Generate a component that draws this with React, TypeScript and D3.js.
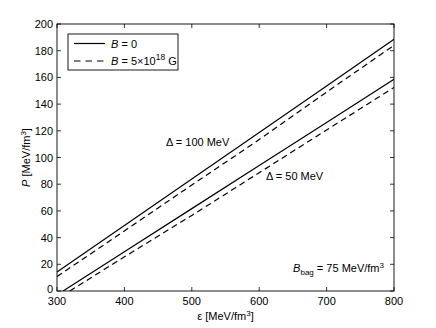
import * as d3 from 'd3';

// x ticks (energy density) and y ticks (pressure)
const epsTicks = [300, 400, 500, 600, 700, 800];
const pTicks = [0, 20, 40, 60, 80, 100, 120, 140, 160, 180, 200];

// Delta = 100 MeV
const eps100 = [300, 400, 500, 600, 700, 800];
const p100B0 = [14.3, 49.1, 83.9, 118.7, 153.5, 188.5];
const p100B5 = [10.8, 45.0, 79.4, 113.4, 149.0, 184.0];

// Delta = 50 MeV
const eps50B0 = [309, 400, 500, 600, 700, 800];
const p50B0 = [0, 29.4, 61.7, 94.0, 126.3, 158.6];
const eps50B5 = [319, 400, 500, 600, 700, 800];
const p50B5 = [0, 25.6, 56.6, 88.6, 120.6, 152.5];

const W = 436;
const H = 328;
const margin = { left: 57, top: 24, right: 42, bottom: 37 };
const font = 'Liberation Sans, Arial, sans-serif';

export default function App() {
  const x = d3.scaleLinear().domain([300, 800]).range([margin.left, W - margin.right]);
  const y = d3.scaleLinear().domain([0, 200]).range([H - margin.bottom, margin.top]);
  const [x0, x1] = x.range();
  const [y0, y1] = y.range();

  const line = d3
    .line<[number, number]>()
    .x((d) => x(d[0]))
    .y((d) => y(d[1]));

  const series = [
    { eps: eps100, p: p100B0, dash: null },
    { eps: eps100, p: p100B5, dash: '6,4' },
    { eps: eps50B0, p: p50B0, dash: null },
    { eps: eps50B5, p: p50B5, dash: '6,4' },
  ];

  const tickLen = 4;

  return (
    <svg
      width={W}
      height={H}
      style={{ position: 'absolute', left: 0, top: 0, background: '#fff' }}
      fontFamily={font}
    >
      <defs>
        <clipPath id="plot">
          <rect x={x0} y={y1} width={x1 - x0} height={y0 - y1} />
        </clipPath>
      </defs>

      {/* data lines */}
      <g clipPath="url(#plot)">
        {series.map((s, i) => (
          <path
            key={i}
            d={line(s.eps.map((e, j) => [e, s.p[j]] as [number, number])) || ''}
            fill="none"
            stroke="#000"
            strokeWidth={1.2}
            strokeDasharray={s.dash || undefined}
          />
        ))}
      </g>

      {/* box */}
      <rect x={x0} y={y1} width={x1 - x0} height={y0 - y1} fill="none" stroke="#000" strokeWidth={0.9} />

      {/* x ticks */}
      {epsTicks.map((t) => (
        <g key={'x' + t}>
          <line x1={x(t)} x2={x(t)} y1={y0} y2={y0 - tickLen} stroke="#000" strokeWidth={0.8} />
          <line x1={x(t)} x2={x(t)} y1={y1} y2={y1 + tickLen} stroke="#000" strokeWidth={0.8} />
          <text x={x(t)} y={y0 + 14} fontSize={11} textAnchor="middle">
            {t}
          </text>
        </g>
      ))}

      {/* y ticks */}
      {pTicks.map((t) => (
        <g key={'y' + t}>
          <line x1={x0} x2={x0 + tickLen} y1={y(t)} y2={y(t)} stroke="#000" strokeWidth={0.8} />
          <line x1={x1} x2={x1 - tickLen} y1={y(t)} y2={y(t)} stroke="#000" strokeWidth={0.8} />
          <text x={x0 - 4} y={y(t) + (t === 0 ? 2 : 4)} fontSize={11} textAnchor="end">
            {t}
          </text>
        </g>
      ))}

      {/* axis labels */}
      <text x={(x0 + x1) / 2} y={320} fontSize={11} textAnchor="middle">
        ε [MeV/fm<tspan dy={-4} fontSize={8}>3</tspan>
        <tspan dy={4}>]</tspan>
      </text>
      <text transform={`translate(30, ${(y0 + y1) / 2}) rotate(-90)`} fontSize={11} textAnchor="middle">
        <tspan fontStyle="italic">P</tspan> [MeV/fm<tspan dy={-4} fontSize={8}>3</tspan>
        <tspan dy={4}>]</tspan>
      </text>

      {/* legend */}
      <rect x={68} y={34} width={110} height={36} fill="#fff" stroke="#000" strokeWidth={0.9} />
      <line x1={74} x2={105} y1={43.5} y2={43.5} stroke="#000" strokeWidth={1.2} />
      <line x1={74} x2={105} y1={61} y2={61} stroke="#000" strokeWidth={1.2} strokeDasharray="6.5,5" />
      <text x={111} y={47.5} fontSize={11}>
        <tspan fontStyle="italic">B</tspan> = 0
      </text>
      <text x={111} y={65} fontSize={11}>
        <tspan fontStyle="italic">B</tspan> = 5×10<tspan dy={-5} fontSize={8.5}>18</tspan>
        <tspan dy={5}> G</tspan>
      </text>

      {/* annotations */}
      <text x={166} y={146} fontSize={11}>
        Δ = 100 MeV
      </text>
      <text x={266} y={180} fontSize={11}>
        Δ = 50 MeV
      </text>
      <text x={384} y={272} fontSize={11} textAnchor="end">
        <tspan fontStyle="italic">B</tspan>
        <tspan dy={3} fontSize={8}>bag</tspan>
        <tspan dy={-3}> = 75 MeV/fm</tspan>
        <tspan dy={-4} fontSize={8}>3</tspan>
      </text>
    </svg>
  );
}
